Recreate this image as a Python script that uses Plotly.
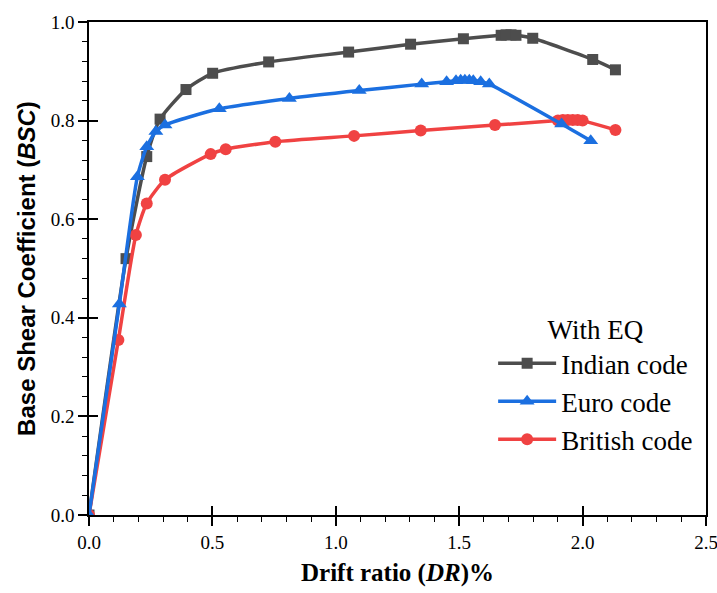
import plotly.graph_objects as go

# Indian code (With EQ)
indian_x = [0.0, 0.15, 0.234, 0.288, 0.393, 0.501, 0.728, 1.052, 1.303, 1.517, 1.67, 1.69, 1.71, 1.73, 1.798, 2.041, 2.133]
indian_y = [0.0, 0.52, 0.727, 0.803, 0.863, 0.896, 0.919, 0.939, 0.955, 0.966, 0.973, 0.974, 0.974, 0.973, 0.967, 0.924, 0.903]

# Euro code
euro_x = [0.0, 0.123, 0.196, 0.234, 0.271, 0.308, 0.528, 0.812, 1.095, 1.348, 1.449, 1.487, 1.506, 1.523, 1.541, 1.557, 1.587, 1.622, 1.915, 2.033]
euro_y = [0.0, 0.428, 0.686, 0.747, 0.778, 0.791, 0.824, 0.845, 0.861, 0.874, 0.879, 0.881, 0.882, 0.882, 0.882, 0.881, 0.879, 0.874, 0.793, 0.759]

# British code
brit_x = [0.0, 0.119, 0.19, 0.234, 0.308, 0.493, 0.554, 0.755, 1.074, 1.344, 1.645, 1.90, 1.92, 1.94, 1.96, 1.98, 2.00, 2.133]
brit_y = [0.0, 0.355, 0.568, 0.632, 0.680, 0.732, 0.742, 0.757, 0.769, 0.780, 0.791, 0.800, 0.801, 0.801, 0.801, 0.801, 0.800, 0.781]

x_ticks = [0.0, 0.5, 1.0, 1.5, 2.0, 2.5]
y_ticks = [0.0, 0.2, 0.4, 0.6, 0.8, 1.0]

SERIF = "Liberation Serif"
fig = go.Figure()
fig.add_trace(go.Scatter(x=indian_x, y=indian_y, name="Indian code", mode="lines+markers",
                         line=dict(color="#4d4d4d", width=3.5, shape="spline", smoothing=0.6),
                         marker=dict(symbol="square", size=11, color="#4d4d4d"), legendrank=1))
fig.add_trace(go.Scatter(x=brit_x, y=brit_y, name="British code", mode="lines+markers",
                         line=dict(color="#f04242", width=3.5, shape="spline", smoothing=0.6),
                         marker=dict(symbol="circle", size=12, color="#f04242"), legendrank=3))
fig.add_trace(go.Scatter(x=euro_x, y=euro_y, name="Euro code", mode="lines+markers",
                         line=dict(color="#1b6fe0", width=3.5, shape="spline", smoothing=0.6),
                         marker=dict(symbol="triangle-up", size=13, color="#1b6fe0"), legendrank=2))

# overlay axes for inward half of major ticks
fig.add_trace(go.Scatter(x=[None], y=[None], xaxis="x2", yaxis="y2", showlegend=False, hoverinfo="skip"))

fig.update_layout(
    width=717, height=593,
    margin=dict(l=89, r=11, t=22, b=78),
    plot_bgcolor="white", paper_bgcolor="white",
    font=dict(family=SERIF, color="black"),
    xaxis=dict(range=[0, 2.5], tickvals=x_ticks, ticktext=[f"{v:.1f}" for v in x_ticks],
               ticks="outside", ticklen=9, tickwidth=1.5, tickcolor="black", automargin=False,
               ticklabeloverflow="allow",
               minor=dict(dtick=0.1, ticks="outside", ticklen=5, tickwidth=1.2, tickcolor="black"),
               showline=True, linecolor="black", linewidth=1.5, mirror=True, showgrid=False, zeroline=False,
               tickfont=dict(family=SERIF, size=19),
               title=dict(text="<b>Drift ratio (<i>DR</i>)%</b>", font=dict(family=SERIF, size=25), standoff=12)),
    yaxis=dict(range=[0, 1.0], tickvals=y_ticks, ticktext=[f"{v:.1f}" for v in y_ticks],
               ticks="outside", ticklen=9, tickwidth=1.5, tickcolor="black", automargin=False,
               minor=dict(dtick=0.04, ticks="outside", ticklen=5, tickwidth=1.2, tickcolor="black"),
               showline=True, linecolor="black", linewidth=1.5, mirror=True, showgrid=False, zeroline=False,
               tickfont=dict(family=SERIF, size=19),
               title=dict(text="<b>Base Shear Coefficient (<i>BSC</i>)</b>", font=dict(family="Liberation Sans", size=24), standoff=8)),
    xaxis2=dict(overlaying="x", range=[0, 2.5], tickvals=x_ticks, ticks="inside", ticklen=9, tickwidth=1.5,
                tickcolor="black", showticklabels=False, showgrid=False, zeroline=False, side="bottom", anchor="y2"),
    yaxis2=dict(overlaying="y", range=[0, 1.0], tickvals=y_ticks, ticks="inside", ticklen=9, tickwidth=1.5,
                tickcolor="black", showticklabels=False, showgrid=False, zeroline=False, side="left", anchor="x2"),
    legend=dict(x=0.655, y=0.428, xanchor="left", yanchor="top", bgcolor="rgba(0,0,0,0)",
                font=dict(family=SERIF, size=27), itemwidth=58, tracegroupgap=0,
                title=dict(text="With EQ", side="top center", font=dict(family=SERIF, size=27))),
)
fig.write_html("out.html", config={"displayModeBar": False},
               post_script="document.body.style.margin='0';")
